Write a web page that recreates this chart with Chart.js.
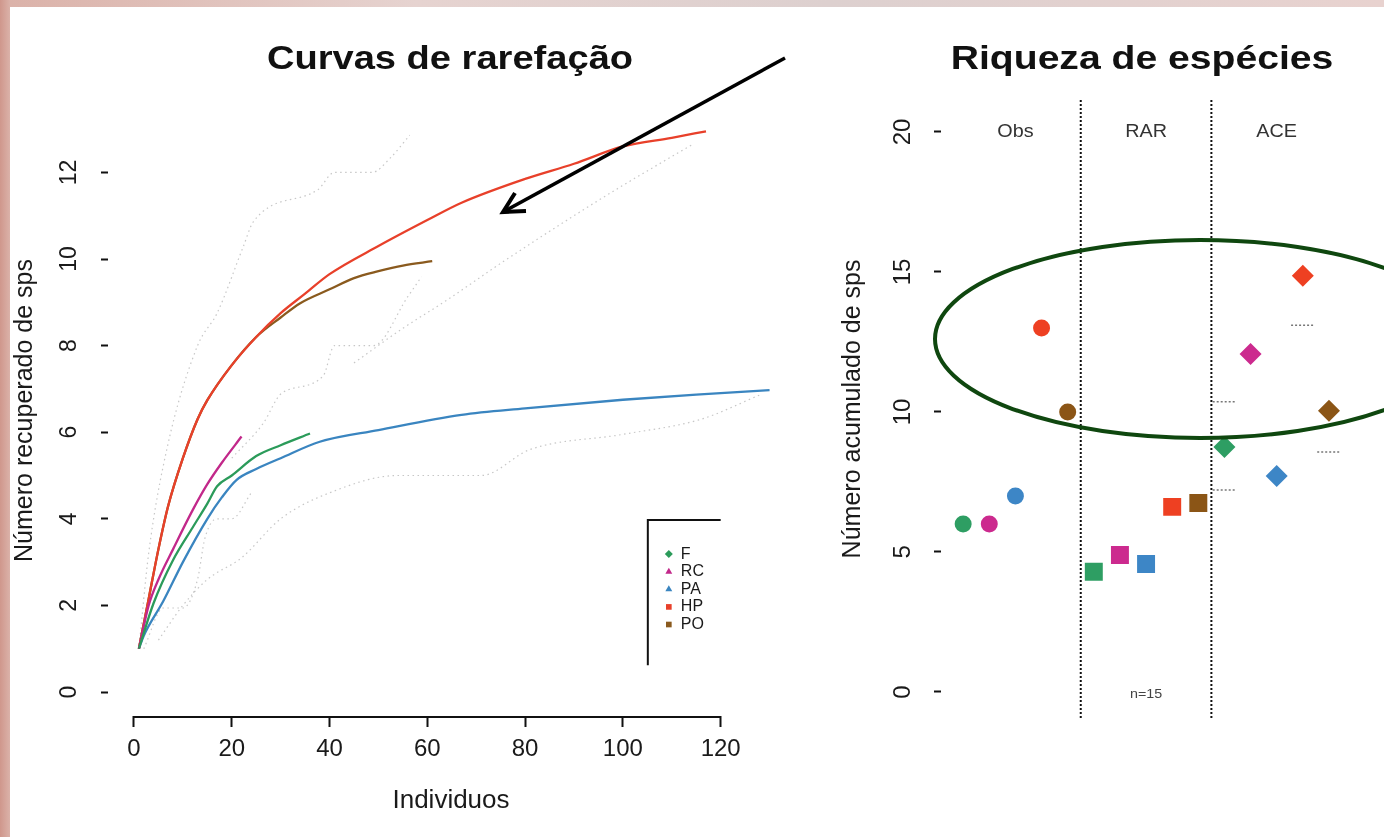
<!DOCTYPE html>
<html lang="pt">
<head>
  <meta charset="UTF-8">
  <title>Curvas de rarefação e riqueza de espécies</title>
  <script src="https://cdn.jsdelivr.net/npm/chart.js@4.4.3/dist/chart.umd.min.js"></script>
  <style>
    html, body { margin: 0; padding: 0; }
    body {
      width: 1384px; height: 837px; overflow: hidden; position: relative;
      background: linear-gradient(90deg, #cf978c 0px, #dbb2a9 10px, #e6d3d0 30%, #ddd0cf 60%, #e8d2cf 100%);
    }
    #panel { position: absolute; left: 10px; top: 7px; right: 0; bottom: 0; background: #fff; }
    canvas { position: absolute; top: 0; }
    #left-chart { left: 0; }
    #right-chart { left: 815px; }
    #notes { position: absolute; left: 0; top: 0; pointer-events: none; }
  </style>
</head>
<body>
  <div id="panel"></div>
  <canvas id="left-chart" width="815" height="837"></canvas>
  <canvas id="right-chart" width="569" height="837"></canvas>

  <!-- anotações: seta e elipse -->
  <svg id="notes" width="1384" height="837">
    <line x1="785" y1="58" x2="505" y2="211" stroke="#000" stroke-width="3.5"/>
    <polyline points="526,211 503,212 515,193" fill="none" stroke="#000" stroke-width="4" stroke-linejoin="miter"/>
    <ellipse cx="1200" cy="339" rx="265" ry="99" fill="none" stroke="#0f470f" stroke-width="4"/>
  </svg>

  <script>
    // grupos
    const groups = ['F', 'RC', 'PA', 'HP', 'PO'];
    const lineColors = ['#2b9b5a', '#c2288a', '#3a85c0', '#e8402a', '#8a5a1e'];
    const pointColors = ['#2e9e63', '#cc2a8e', '#3d86c6', '#ee4022', '#8b5516'];
    const legendStyles = ['rectRot', 'triangle', 'triangle', 'rect', 'rect'];

    // curvas de rarefação [individuos, espécies]
    const curveF  = [[1,1],[4,2.05],[8,3.05],[12,3.8],[15,4.35],[17,4.75],[20,5.0],[25,5.45],[30,5.7],[36,5.97]];
    const curveRC = [[1,1],[3,2.0],[5,2.6],[8,3.3],[12,4.2],[15,4.8],[18,5.3],[22,5.9]];
    const curvePA = [[1,1],[2,1.3],[6,2.1],[10,3.0],[15,4.0],[18,4.5],[21,4.9],[25,5.15],[30,5.4],[38,5.78],[50,6.05],[67,6.4],[80,6.55],[100,6.75],[115,6.87],[130,6.97]];
    const curveHP = [[1,1],[3,2.15],[5,3.3],[7,4.3],[10,5.4],[13,6.3],[15,6.74],[20,7.55],[25,8.2],[30,8.75],[35,9.2],[40,9.65],[50,10.3],[60,10.9],[67,11.3],[80,11.85],[90,12.2],[100,12.6],[110,12.8],[117,12.95]];
    const curvePO = [[1,1],[3,2.15],[5,3.3],[7,4.3],[10,5.4],[13,6.3],[15,6.74],[20,7.55],[25,8.2],[30,8.65],[34,8.98],[40,9.3],[45,9.56],[50,9.72],[55,9.85],[61,9.95]];
    const curves = [curveF, curveRC, curvePA, curveHP, curvePO];

    // intervalos de confiança (pontilhados)
    const ciHPupper = [[1,1],[3,3.2],[6.7,5.6],[13,8.0],[17,8.75],[22.4,10.3],[24.4,10.86],[37.6,11.6],[41,12],[48.7,12],[52.4,12.33],[56.4,12.86]];
    const ciHPlower = [[45,7.6],[55,8.4],[64,9.05],[75,9.9],[90,11.0],[100,11.7],[114,12.63]];
    const ciPOlower = [[20,5.4],[26.4,6.2],[30.2,6.9],[38.7,7.3],[41,8.0],[49,8.0],[56,9.13],[58.8,9.59]];
    const ciPAlower = [[5,1.2],[10,2.0],[15,2.6],[22,3.1],[30,4.0],[40,4.6],[54,5.0],[71,5.0],[81,5.6],[100,5.95],[116,6.3],[128,6.86]];
    const ciFlower  = [[2,1],[6,1.94],[10,1.94],[13,2.6],[14.5,3.55],[17,4],[20,4],[24,4.6]];
    const ciLines = [ciHPupper, ciHPlower, ciPOlower, ciPAlower, ciFlower];

    const xTicksLeft = [0, 20, 40, 60, 80, 100, 120];
    const yTicksLeft = [0, 2, 4, 6, 8, 10, 12];

    // riqueza de espécies
    const panels = ['Obs', 'RAR', 'ACE'];
    const obsRich = [6, 6, 7, 13, 10];
    const rarRich = [4.29, 4.89, 4.57, 6.61, 6.75];
    const aceRich = [8.75, 12.07, 7.71, 14.86, 10.04];
    const aceSeX = [14, 11, 15, 11];
    const aceSeY = [13.1, 10.36, 8.57, 7.21];
    const yTicksRight = [0, 5, 10, 15, 20];
    const rarefyN = 'n=15';

    const FONT = '"Liberation Sans", Arial, Helvetica, sans-serif';
    const toXY = arr => arr.map(p => ({ x: p[0], y: p[1] }));

    function drawYLabels(chart, values, x, size) {
      const { ctx, scales: { y } } = chart;
      ctx.save();
      ctx.fillStyle = '#1a1a1a';
      ctx.font = `${size}px ${FONT}`;
      ctx.textAlign = 'center';
      ctx.textBaseline = 'middle';
      values.forEach(v => {
        ctx.save();
        ctx.translate(x, y.getPixelForValue(v));
        ctx.rotate(-Math.PI / 2);
        ctx.fillText(String(v), 0, 0);
        ctx.restore();
      });
      ctx.restore();
    }

    function drawText(ctx, text, cx, cy, font, color, stretch) {
      ctx.save();
      ctx.fillStyle = color;
      ctx.font = font;
      ctx.textAlign = 'center';
      ctx.textBaseline = 'middle';
      ctx.translate(cx, cy);
      ctx.scale(stretch, 1);
      ctx.fillText(text, 0, 0);
      ctx.restore();
    }

    const leftDecor = {
      id: 'leftDecor',
      afterDraw(chart) {
        const { ctx, scales: { x, y } } = chart;
        // eixo x do 0 ao 120
        ctx.save();
        ctx.strokeStyle = '#111';
        ctx.lineWidth = 2;
        ctx.beginPath();
        ctx.moveTo(x.getPixelForValue(0), chart.chartArea.bottom + 1);
        ctx.lineTo(x.getPixelForValue(120), chart.chartArea.bottom + 1);
        ctx.stroke();
        ctx.restore();

        drawYLabels(chart, yTicksLeft, 70, 23);
        drawText(ctx, 'Curvas de rarefação', 450, 60, `bold 34px ${FONT}`, '#111', 1.12);

        // legenda
        const lx = x.getPixelForValue(105.1), ly = y.getPixelForValue(3.97);
        const rx = x.getPixelForValue(120), by = y.getPixelForValue(0.62);
        ctx.save();
        ctx.strokeStyle = '#111';
        ctx.lineWidth = 2;
        ctx.beginPath();
        ctx.moveTo(rx, ly);
        ctx.lineTo(lx, ly);
        ctx.lineTo(lx, by);
        ctx.stroke();
        ctx.font = `16px ${FONT}`;
        ctx.textBaseline = 'middle';
        ctx.textAlign = 'left';
        groups.forEach((g, i) => {
          const ey = ly + 34 + i * 17.6;
          ctx.fillStyle = lineColors[i];
          Chart.helpers.drawPoint(ctx, { pointStyle: legendStyles[i], radius: 4, borderWidth: 0, rotation: 0 }, lx + 21, ey);
          ctx.fillStyle = '#1a1a1a';
          ctx.fillText(g, lx + 33, ey);
        });
        ctx.restore();
      }
    };

    const rightDecor = {
      id: 'rightDecor',
      afterDraw(chart) {
        const { ctx, scales: { x, y } } = chart;
        drawYLabels(chart, yTicksRight, 88, 24);
        drawText(ctx, 'Riqueza de espécies', 327, 60, `bold 34px ${FONT}`, '#111', 1.15);
        panels.forEach((p, i) => {
          drawText(ctx, p, x.getPixelForValue(3 + i * 5), y.getPixelForValue(20), `18px ${FONT}`, '#333', 1.1);
        });
        drawText(ctx, rarefyN, x.getPixelForValue(8), y.getPixelForValue(-0.1), `13px ${FONT}`, '#444', 1.1);
      }
    };

    const tickGrid = len => ({
      display: true, drawOnChartArea: false, drawTicks: true,
      tickLength: len, tickWidth: 2, tickColor: '#111', color: '#111'
    });

    const leftDatasets = [];
    ciLines.forEach(ci => leftDatasets.push({
      data: toXY(ci), showLine: true, borderColor: 'rgba(70,70,70,0.3)', borderWidth: 1.2,
      borderDash: [1.5, 3.5], pointRadius: 0, cubicInterpolationMode: 'monotone'
    }));
    curves.forEach((c, i) => leftDatasets.push({
      label: groups[i], data: toXY(c), showLine: true, borderColor: lineColors[i], borderWidth: 2.3,
      pointRadius: 0, cubicInterpolationMode: 'monotone'
    }));

    new Chart(document.getElementById('left-chart'), {
      type: 'scatter',
      data: { datasets: leftDatasets },
      options: {
        responsive: false,
        animation: false,
        events: [],
        layout: { padding: { top: 105, right: 21, left: 0, bottom: 0 } },
        plugins: { legend: { display: false }, tooltip: { enabled: false } },
        scales: {
          x: {
            type: 'linear', min: -5.317, max: 135,
            afterBuildTicks: s => { s.ticks = xTicksLeft.map(v => ({ value: v })); },
            afterFit: s => { s.height = 121; },
            grid: tickGrid(11),
            border: { display: false },
            ticks: { color: '#1a1a1a', font: { family: FONT, size: 24 }, padding: 8, maxRotation: 0 },
            title: { display: true, text: 'Individuos', color: '#1a1a1a', font: { family: FONT, size: 26 }, padding: { top: 0, bottom: 21 } }
          },
          y: {
            type: 'linear', min: -0.554, max: 13.557,
            afterBuildTicks: s => { s.ticks = yTicksLeft.map(v => ({ value: v })); },
            afterFit: s => { s.width = 108; },
            grid: tickGrid(7),
            border: { display: false },
            ticks: { display: false },
            title: { display: true, text: 'Número recuperado de sps', color: '#1a1a1a', font: { family: FONT, size: 25 }, padding: { top: 10, bottom: 0 } }
          }
        }
      },
      plugins: [leftDecor]
    });

    const rightDatasets = [];
    [5.5, 10.5].forEach(v => rightDatasets.push({
      data: [{ x: v, y: -0.93 }, { x: v, y: 21.14 }], showLine: true, borderColor: '#111',
      borderWidth: 2, borderDash: [2, 2], pointRadius: 0
    }));
    aceSeX.forEach((sx, i) => rightDatasets.push({
      data: [{ x: sx - 0.45, y: aceSeY[i] }, { x: sx + 0.45, y: aceSeY[i] }], showLine: true,
      borderColor: '#777', borderWidth: 1.5, borderDash: [2, 2], pointRadius: 0
    }));
    rightDatasets.push({
      label: 'Obs', data: obsRich.map((v, i) => ({ x: i + 1, y: v })),
      pointStyle: 'circle', pointRadius: 8.5, backgroundColor: pointColors, borderWidth: 0
    });
    rightDatasets.push({
      label: 'RAR', data: rarRich.map((v, i) => ({ x: i + 6, y: v })),
      pointStyle: 'rect', pointRadius: 12.7, backgroundColor: pointColors, borderWidth: 0
    });
    rightDatasets.push({
      label: 'ACE', data: aceRich.map((v, i) => ({ x: i + 11, y: v })),
      pointStyle: 'rectRot', pointRadius: 11, backgroundColor: pointColors, borderWidth: 0
    });

    new Chart(document.getElementById('right-chart'), {
      type: 'scatter',
      data: { datasets: rightDatasets },
      options: {
        responsive: false,
        animation: false,
        events: [],
        layout: { padding: { top: 100, right: 0, left: 0, bottom: 119 } },
        plugins: { legend: { display: false }, tooltip: { enabled: false } },
        scales: {
          x: { type: 'linear', min: 0.152, max: 16.62, display: false },
          y: {
            type: 'linear', min: -0.93, max: 21.14,
            afterBuildTicks: s => { s.ticks = yTicksRight.map(v => ({ value: v })); },
            afterFit: s => { s.width = 126; },
            grid: tickGrid(7),
            border: { display: false },
            ticks: { display: false },
            title: { display: true, text: 'Número acumulado de sps', color: '#1a1a1a', font: { family: FONT, size: 25 }, padding: { top: 23, bottom: 0 } }
          }
        }
      },
      plugins: [rightDecor]
    });
  </script>
</body>
</html>
